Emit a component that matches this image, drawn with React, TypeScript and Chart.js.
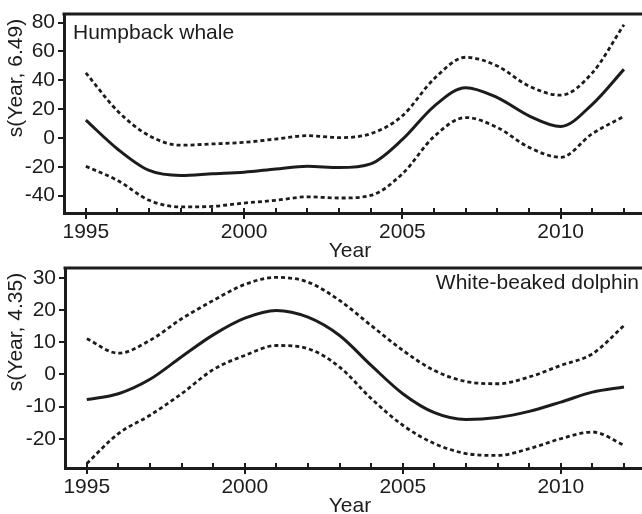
import React, { useEffect, useRef } from "react";
import { Chart, registerables } from "chart.js";

Chart.register(...registerables);

const years = [1995, 1996, 1997, 1998, 1999, 2000, 2001, 2002, 2003, 2004, 2005, 2006, 2007, 2008, 2009, 2010, 2011, 2012];

const humpbackFit = [12.4, -7.6, -22.5, -26, -24.8, -23.7, -21.5, -19.6, -20.5, -17.9, -1, 22, 34.9, 28, 15.4, 8, 23.4, 47.6];
const humpbackUpper = [45.2, 18.8, 1.6, -5, -4.1, -3, -0.7, 1.6, 0.3, 3, 15.4, 41, 56, 49.9, 36, 29.7, 45.2, 78.6];
const humpbackLower = [-19.6, -29.4, -43.2, -47.8, -47.4, -45.1, -43.2, -40.8, -41.6, -39.8, -24.8, 1, 14.2, 7.3, -6.5, -13.4, 3, 15];

const dolphinFit = [-7.8, -6, -1.5, 5.5, 12.3, 17.5, 19.9, 17.8, 12.1, 2.8, -6, -11.9, -14, -13.4, -11.5, -8.6, -5.5, -3.9];
const dolphinUpper = [11.1, 6.6, 10.6, 17.3, 23, 28, 30.2, 28.7, 23, 15.2, 7.5, 1.2, -2.2, -2.9, -0.8, 2.8, 6.4, 15.2];
const dolphinLower = [-27.7, -18.4, -12.7, -6, 1.5, 5.9, 9, 8, 2.3, -7.5, -15.8, -21.5, -24.6, -25.2, -23.1, -20, -17.9, -22];

const xTickLabels = [1995, 2000, 2005, 2010];
const humpbackYTicks = [-40, -20, 0, 20, 40, 60, 80];
const dolphinYTicks = [-20, -10, 0, 10, 20, 30];

const FONT = "'Liberation Sans', Arial, Helvetica, sans-serif";
const INK = "#1c1c1c";
const W = 642;
const H = 257;

type PanelProps = {
  fit: number[];
  upper: number[];
  lower: number[];
  yTicks: number[];
  yMin: number;
  yMax: number;
  yTitle: string;
  label: string;
  labelSide: "left" | "right";
  padTop: number;
  axisHeight: number;
  axisWidth: number;
  yTitleCenter: number;
  xTitleBase: number;
};

function Panel(p: PanelProps) {
  const ref = useRef<HTMLCanvasElement | null>(null);
  useEffect(() => {
    const canvas = ref.current;
    if (!canvas) return;
    const toPts = (vals: number[]) => years.map((x, i) => ({ x, y: vals[i] }));
    const ds = (vals: number[], dashed: boolean) => ({
      data: toPts(vals),
      borderColor: INK,
      borderWidth: dashed ? 2.8 : 3,
      borderDash: dashed ? [4, 3] : [],
      pointRadius: 0,
      cubicInterpolationMode: "monotone" as const,
      fill: false,
    });
    const decor = {
      id: "decor",
      afterDraw(chart: any) {
        const ctx = chart.ctx;
        const a = chart.chartArea;
        const xs = chart.scales.x;
        const ys = chart.scales.y;
        ctx.save();
        ctx.strokeStyle = INK;
        ctx.fillStyle = INK;
        ctx.lineWidth = 3;
        ctx.beginPath();
        ctx.moveTo(a.left - 1.5, a.top);
        ctx.lineTo(chart.width, a.top);
        ctx.stroke();
        ctx.lineWidth = 2;
        for (const yr of years) {
          const px = Math.round(xs.getPixelForValue(yr));
          const major = yr % 5 === 0;
          ctx.beginPath();
          ctx.moveTo(px, a.bottom - 5);
          ctx.lineTo(px, major ? a.bottom + 6 : a.bottom);
          ctx.stroke();
        }
        for (const v of p.yTicks) {
          const py = Math.round(ys.getPixelForValue(v));
          ctx.beginPath();
          ctx.moveTo(a.left - 6, py);
          ctx.lineTo(a.left, py);
          ctx.stroke();
        }
        ctx.font = `21px ${FONT}`;
        ctx.textAlign = "center";
        ctx.textBaseline = "alphabetic";
        ctx.fillText("Year", 350, p.xTitleBase);
        ctx.save();
        ctx.translate(22, p.yTitleCenter);
        ctx.rotate(-Math.PI / 2);
        ctx.textAlign = "center";
        ctx.fillText(p.yTitle, 0, 0);
        ctx.restore();
        if (p.labelSide === "left") {
          ctx.textAlign = "left";
          ctx.fillText(p.label, a.left + 9, a.top + 25);
        } else {
          ctx.textAlign = "right";
          ctx.fillText(p.label, W - 3, a.top + 21);
        }
        ctx.restore();
      },
    };
    const chart = new Chart(canvas, {
      type: "line",
      data: { datasets: [ds(p.upper, true), ds(p.fit, false), ds(p.lower, true)] },
      options: {
        animation: false,
        responsive: false,
        maintainAspectRatio: false,
        layout: { padding: { top: p.padTop, right: 0, left: 0, bottom: 0 } },
        plugins: { legend: { display: false }, tooltip: { enabled: false } },
        scales: {
          x: {
            type: "linear",
            min: 1994.31,
            max: 2012.57,
            afterBuildTicks: (s: any) => {
              s.ticks = xTickLabels.map((v) => ({ value: v }));
            },
            afterFit: (s: any) => {
              s.height = p.axisHeight;
              s.paddingLeft = 0;
              s.paddingRight = 0;
              s.paddingTop = 0;
              s.paddingBottom = 0;
            },
            grid: { display: false, drawTicks: false },
            border: { display: true, width: 3, color: INK },
            ticks: {
              color: INK,
              font: { family: FONT, size: 21 },
              maxRotation: 0,
              autoSkip: false,
              padding: 7,
              callback: (v: any) => String(v),
            },
          },
          y: {
            type: "linear",
            min: p.yMin,
            max: p.yMax,
            afterBuildTicks: (s: any) => {
              s.ticks = p.yTicks.map((v) => ({ value: v }));
            },
            afterFit: (s: any) => {
              s.width = p.axisWidth;
              s.paddingTop = 0;
              s.paddingBottom = 0;
              s.paddingLeft = 0;
              s.paddingRight = 0;
            },
            grid: { display: false, drawTicks: false },
            border: { display: true, width: 3, color: INK },
            ticks: {
              color: INK,
              font: { family: FONT, size: 21 },
              padding: 9,
              autoSkip: false,
              callback: (v: any) => String(v),
            },
          },
        },
      },
      plugins: [decor],
    });
    return () => chart.destroy();
  }, []);
  return <canvas ref={ref} width={W} height={H} style={{ display: "block", width: W, height: H }} />;
}

export default function App() {
  return (
    <div style={{ position: "absolute", left: 0, top: 0, width: W, height: 514, background: "#fff", overflow: "hidden" }}>
      <Panel
        fit={humpbackFit}
        upper={humpbackUpper}
        lower={humpbackLower}
        yTicks={humpbackYTicks}
        yMin={-52}
        yMax={86}
        yTitle="s(Year, 6.49)"
        label="Humpback whale"
        labelSide="left"
        padTop={14}
        axisHeight={44}
        axisWidth={64}
        yTitleCenter={78}
        xTitleBase={257}
      />
      <Panel
        fit={dolphinFit}
        upper={dolphinUpper}
        lower={dolphinLower}
        yTicks={dolphinYTicks}
        yMin={-29.1}
        yMax={33.1}
        yTitle="s(Year, 4.35)"
        label="White-beaked dolphin"
        labelSide="right"
        padTop={11}
        axisHeight={46}
        axisWidth={65}
        yTitleCenter={75}
        xTitleBase={255}
      />
    </div>
  );
}
